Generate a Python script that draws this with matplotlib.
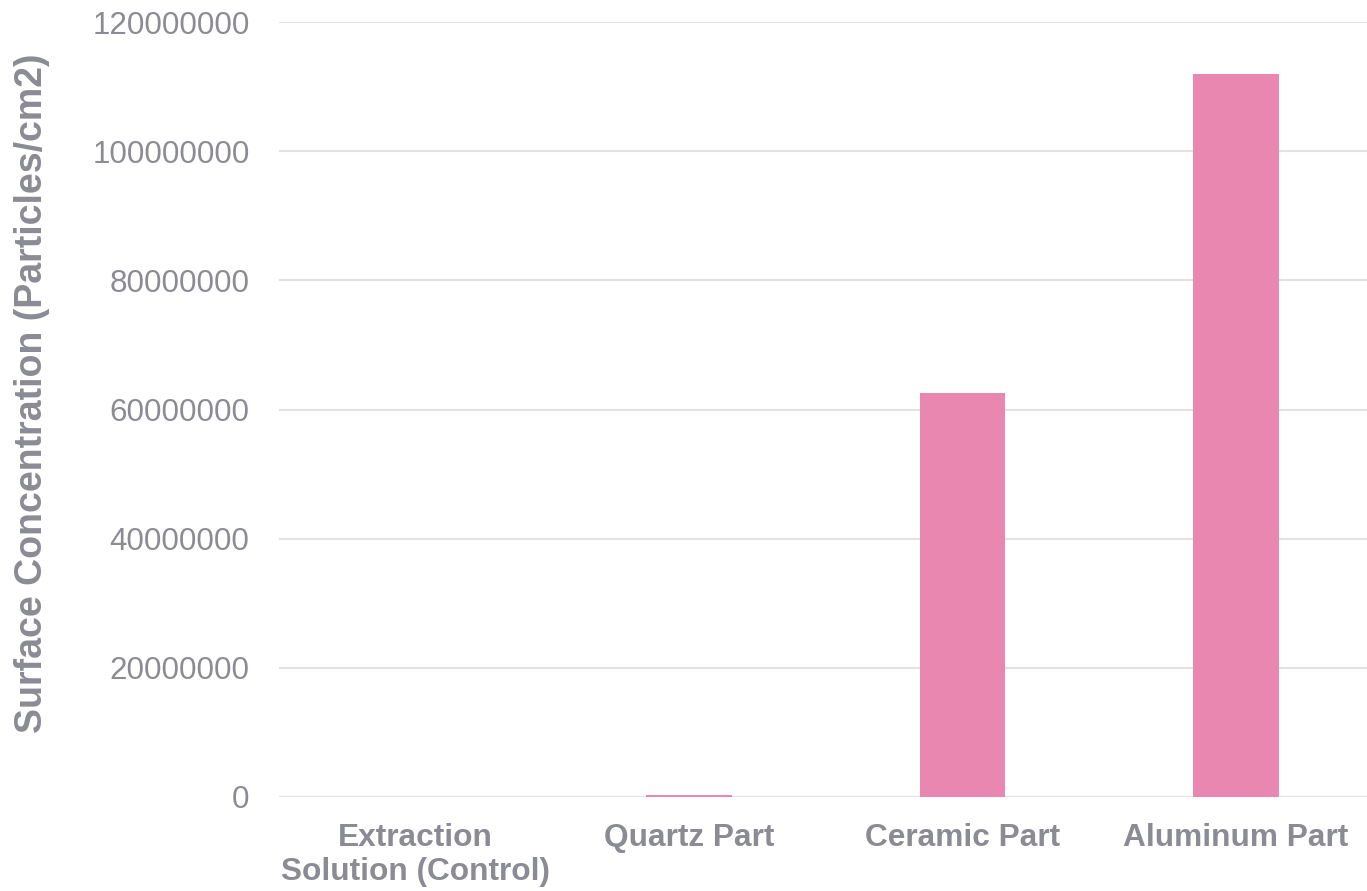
import matplotlib
matplotlib.use("Agg")
import matplotlib.pyplot as plt

categories = ["Extraction\nSolution (Control)", "Quartz Part", "Ceramic Part", "Aluminum Part"]
values = [0, 350000, 62600000, 111900000]
yticks = [0, 20000000, 40000000, 60000000, 80000000, 100000000, 120000000]

plt.rcParams['font.family'] = ['Liberation Sans', 'DejaVu Sans']
text_color = "#8b8b93"
bar_color = "#ea87b0"
grid_color = "#e2e2e2"

fig = plt.figure(figsize=(13.67, 8.91), dpi=100)
ax = fig.add_axes([0.2039, 0.1055, 0.8003, 0.8698])

x = range(len(categories))
ax.bar(x, values, width=0.314, color=bar_color, zorder=3)

ax.set_xlim(-0.5, len(categories) - 0.5)
ax.set_ylim(0, 120000000)
ax.set_yticks(yticks)
ax.set_yticklabels([str(v) for v in yticks], fontsize=22.6, color=text_color)
ax.set_xticks(list(x))
ax.set_xticklabels(categories, fontsize=22.8, fontweight="bold", color=text_color,
                   linespacing=1.17)

ax.grid(axis="y", color=grid_color, linewidth=1.5, zorder=0)
ax.set_axisbelow(True)
for s in ax.spines.values():
    s.set_visible(False)
ax.tick_params(axis="both", length=0)
ax.tick_params(axis="y", pad=21)
ax.tick_params(axis="x", pad=19)

fig.text(0.0235, 0.5584, "Surface Concentration (Particles/cm2)", rotation=90,
         ha="center", va="center", fontsize=27, fontweight="bold", color=text_color)

fig.savefig("out.png", dpi=100, facecolor="white")
